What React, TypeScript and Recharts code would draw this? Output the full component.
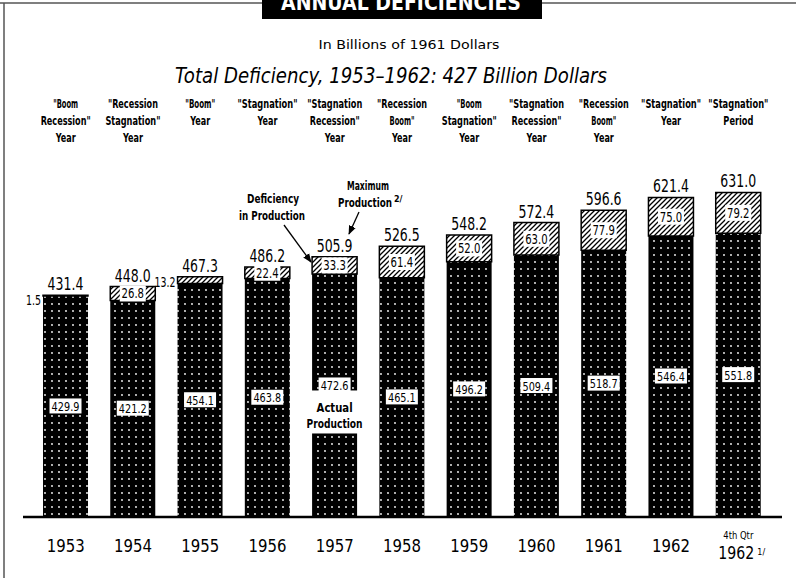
import React from "react";
import { BarChart, Bar, XAxis, YAxis, LabelList } from "recharts";

const FONT = "'DejaVu Sans', sans-serif";

const categories = [
  "1953", "1954", "1955", "1956", "1957", "1958",
  "1959", "1960", "1961", "1962", "4th Qtr 1962",
];
const actualProduction = [429.9, 421.2, 454.1, 463.8, 472.6, 465.1, 496.2, 509.4, 518.7, 546.4, 551.8];
const deficiency = [1.5, 26.8, 13.2, 22.4, 33.3, 61.4, 52.0, 63.0, 77.9, 75.0, 79.2];
const maximumProduction = [431.4, 448.0, 467.3, 486.2, 505.9, 526.5, 548.2, 572.4, 596.6, 621.4, 631.0];
const yearTypes = [
  ["\"Boom", "Recession\"", "Year"],
  ["\"Recession", "Stagnation\"", "Year"],
  ["\"Boom\"", "Year"],
  ["\"Stagnation\"", "Year"],
  ["\"Stagnation", "Recession\"", "Year"],
  ["\"Recession", "Boom\"", "Year"],
  ["\"Boom", "Stagnation\"", "Year"],
  ["\"Stagnation", "Recession\"", "Year"],
  ["\"Recession", "Boom\"", "Year"],
  ["\"Stagnation\"", "Year"],
  ["\"Stagnation\"", "Period"],
];
const annotatedYear = "1957"; // bar that carries the "Actual Production" callout

const data = categories.map((year, i) => ({
  year,
  actual: actualProduction[i],
  deficiency: deficiency[i],
  total: maximumProduction[i],
}));

const box = (p: any) => {
  const vb = p.viewBox || {};
  return {
    x: p.x ?? vb.x,
    y: p.y ?? vb.y,
    width: p.width ?? vb.width,
    height: p.height ?? vb.height,
  };
};

// squeeze a number string into a width, the lettering on the original is narrow
const numW = (s: string, digit: number) => s.replace(".", "").length * digit + 3;

const ActualLabel = (props: any) => {
  const { x, y, width, height } = box(props);
  const cx = x + width / 2;
  const cy = y + height / 2;
  const label = Number(props.value).toFixed(1);
  const tl = numW(label, 6.2);
  if (data[props.index]?.year === annotatedYear) {
    return (
      <g fontFamily={FONT}>
        <rect x={x - 1} y={cy - 5} width={width + 2} height={43} fill="#fff" />
        <rect x={cx - 16} y={cy - 18} width={32} height={15} fill="#fff" />
        <text x={cx} y={cy - 5.5} textAnchor="middle" fontSize={13} textLength={tl} lengthAdjust="spacingAndGlyphs">{label}</text>
        <text x={cx} y={cy + 17} textAnchor="middle" fontSize={12} fontWeight="bold" textLength={36} lengthAdjust="spacingAndGlyphs">Actual</text>
        <text x={cx} y={cy + 33} textAnchor="middle" fontSize={12} fontWeight="bold" textLength={56} lengthAdjust="spacingAndGlyphs">Production</text>
      </g>
    );
  }
  return (
    <g fontFamily={FONT}>
      <rect x={cx - 16} y={cy - 8} width={32} height={15} fill="#fff" />
      <text x={cx} y={cy + 4.5} textAnchor="middle" fontSize={13} textLength={tl} lengthAdjust="spacingAndGlyphs">{label}</text>
    </g>
  );
};

const DeficiencyLabel = (props: any) => {
  const { x, y, width, height } = box(props);
  const value = Number(props.value);
  const label = value.toFixed(1);
  if (value < 15) {
    return (
      <text x={x - 2} y={y + 10} textAnchor="end" fontSize={14} fontFamily={FONT} textLength={numW(label, 6)} lengthAdjust="spacingAndGlyphs">
        {label}
      </text>
    );
  }
  const cx = x + width / 2;
  const cy = y + height / 2;
  return (
    <g fontFamily={FONT}>
      <rect x={cx - 13} y={cy - 8} width={26} height={16} fill="#fff" />
      <text x={cx} y={cy + 5} textAnchor="middle" fontSize={14} textLength={numW(label, 6.5)} lengthAdjust="spacingAndGlyphs">{label}</text>
    </g>
  );
};

const TotalLabel = (props: any) => {
  const { x, y, width } = box(props);
  const label = Number(props.value).toFixed(1);
  return (
    <text x={x + width / 2} y={y - 5} textAnchor="middle" fontSize={17} fontFamily={FONT} textLength={numW(label, 8.2)} lengthAdjust="spacingAndGlyphs">
      {label}
    </text>
  );
};

const YearTick = (props: any) => {
  const { x, y, payload } = props;
  const v: string = payload.value;
  if (v.startsWith("4th")) {
    return (
      <g fontFamily={FONT}>
        <text x={x} y={y + 22} textAnchor="middle" fontSize={10} textLength={30} lengthAdjust="spacingAndGlyphs">4th Qtr</text>
        <text x={x - 2} y={y + 42} textAnchor="middle" fontSize={17} textLength={36} lengthAdjust="spacingAndGlyphs">1962</text>
        <text x={x + 19} y={y + 38} fontSize={8}>1/</text>
      </g>
    );
  }
  return (
    <text x={x} y={y + 35} textAnchor="middle" fontSize={17} fontFamily={FONT} textLength={38} lengthAdjust="spacingAndGlyphs">
      {v}
    </text>
  );
};

const HEADER_BASELINE = 108;
const TypeTick = (props: any) => {
  const { x, index } = props;
  const lines = yearTypes[index] || [];
  return (
    <g fontFamily={FONT} fontSize={12} fontWeight="bold">
      {lines.map((l, i) => (
        <text
          key={i}
          x={x}
          y={HEADER_BASELINE + i * 17}
          textAnchor="middle"
          textLength={l.length * 5.0}
          lengthAdjust="spacingAndGlyphs"
        >
          {l}
        </text>
      ))}
    </g>
  );
};

export default function App() {
  return (
    <div
      style={{
        position: "absolute",
        left: 0,
        top: 0,
        width: 796,
        height: 578,
        background: "#fff",
        overflow: "hidden",
      }}
    >
      <BarChart
        width={796}
        height={578}
        data={data}
        margin={{ top: 0, right: 14, left: 23, bottom: 0 }}
        barSize={45}
      >
        <defs>
          <pattern id="dots" width="7" height="7" patternUnits="userSpaceOnUse">
            <rect width="7" height="7" fill="#000" />
            <circle cx="3" cy="3" r="0.9" fill="#fff" />
          </pattern>
          <pattern id="hatch" width="5" height="5" patternUnits="userSpaceOnUse">
            <rect width="5" height="5" fill="#fff" />
            <path d="M0,5 L5,0 M-1,1 L1,-1 M4,6 L6,4" stroke="#000" strokeWidth={1.3} />
          </pattern>
        </defs>
        <YAxis hide domain={[0, 700]} />
        <XAxis
          xAxisId="top"
          orientation="top"
          dataKey="year"
          height={157}
          axisLine={false}
          tickLine={false}
          tick={<TypeTick />}
          interval={0}
          padding={{ left: 9, right: 10 }}
        />
        <XAxis
          dataKey="year"
          height={61}
          tickLine={false}
          tickSize={0}
          tickMargin={0}
          tick={<YearTick />}
          interval={0}
          axisLine={{ stroke: "#000", strokeWidth: 2.5 }}
          padding={{ left: 9, right: 10 }}
        />
        <Bar dataKey="actual" stackId="p" fill="url(#dots)" isAnimationActive={false}>
          <LabelList dataKey="actual" content={<ActualLabel />} />
        </Bar>
        <Bar
          dataKey="deficiency"
          stackId="p"
          fill="url(#hatch)"
          stroke="#000"
          strokeWidth={1.5}
          isAnimationActive={false}
        >
          <LabelList dataKey="deficiency" content={<DeficiencyLabel />} />
          <LabelList dataKey="total" content={<TotalLabel />} />
        </Bar>
      </BarChart>

      <svg
        width={796}
        height={578}
        style={{ position: "absolute", left: 0, top: 0, pointerEvents: "none" }}
        fontFamily={FONT}
      >
        <defs>
          <marker id="arrow" viewBox="0 0 10 10" refX="9" refY="5" markerWidth="7" markerHeight="7" orient="auto">
            <path d="M0,1 L10,5 L0,9 z" fill="#000" />
          </marker>
        </defs>
        <line x1={0} y1={3} x2={796} y2={3} stroke="#555" strokeWidth={1.5} />
        <line x1={4} y1={3} x2={4} y2={578} stroke="#555" strokeWidth={1.5} />
        <rect x={262} y={-2} width={280} height={21} fill="#000" />
        <text x={401} y={10} textAnchor="middle" fill="#fff" fontSize={22} fontWeight="bold" textLength={240} lengthAdjust="spacingAndGlyphs">
          ANNUAL DEFICIENCIES
        </text>
        <text x={409} y={49} textAnchor="middle" fontSize={13} textLength={181} lengthAdjust="spacingAndGlyphs">
          In Billions of 1961 Dollars
        </text>
        <text x={391} y={83} textAnchor="middle" fontSize={22} fontStyle="italic" textLength={432} lengthAdjust="spacingAndGlyphs">
          Total Deficiency, 1953–1962: 427 Billion Dollars
        </text>

        <g fontSize={12} fontWeight="bold" textAnchor="middle">
          <text x={273} y={203} textLength={52} lengthAdjust="spacingAndGlyphs">Deficiency</text>
          <text x={272} y={220} textLength={66} lengthAdjust="spacingAndGlyphs">in Production</text>
          <text x={368} y={190} textLength={42} lengthAdjust="spacingAndGlyphs">Maximum</text>
          <text x={365} y={207} textLength={54} lengthAdjust="spacingAndGlyphs">Production</text>
          <text x={394} y={202} fontSize={8} textAnchor="start">2/</text>
        </g>
        <line x1={359} y1={212} x2={349} y2={234} stroke="#000" strokeWidth={1.3} markerEnd="url(#arrow)" />
        <line x1={284} y1={225} x2={311} y2={262} stroke="#000" strokeWidth={1.3} markerEnd="url(#arrow)" />
      </svg>
    </div>
  );
}
